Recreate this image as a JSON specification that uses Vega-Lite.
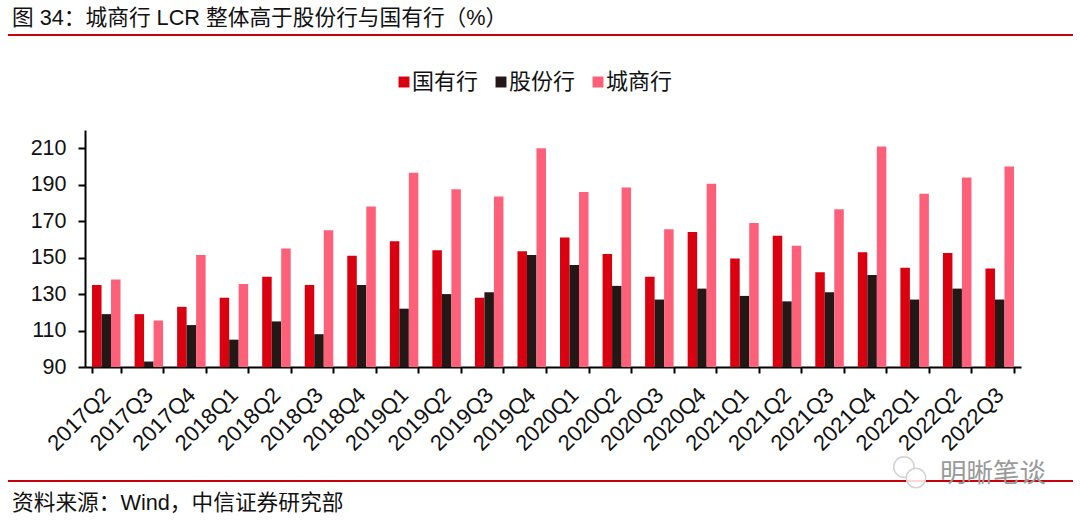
{"$schema":"https://vega.github.io/schema/vega-lite/v6.json","width":936,"height":237,"autosize":"none","padding":{"left":85,"top":130,"right":59,"bottom":155},"background":"white","config":{"view":{"stroke":null},"font":"Liberation Sans, Noto Sans CJK SC"},"datasets":{"rows":[{"q":"2017Q2","s":"国有行","v":135},{"q":"2017Q3","s":"国有行","v":119},{"q":"2017Q4","s":"国有行","v":123},{"q":"2018Q1","s":"国有行","v":128},{"q":"2018Q2","s":"国有行","v":139.5},{"q":"2018Q3","s":"国有行","v":135},{"q":"2018Q4","s":"国有行","v":151},{"q":"2019Q1","s":"国有行","v":159},{"q":"2019Q2","s":"国有行","v":154},{"q":"2019Q3","s":"国有行","v":128},{"q":"2019Q4","s":"国有行","v":153.5},{"q":"2020Q1","s":"国有行","v":161},{"q":"2020Q2","s":"国有行","v":152},{"q":"2020Q3","s":"国有行","v":139.5},{"q":"2020Q4","s":"国有行","v":164},{"q":"2021Q1","s":"国有行","v":149.5},{"q":"2021Q2","s":"国有行","v":162},{"q":"2021Q3","s":"国有行","v":142},{"q":"2021Q4","s":"国有行","v":153},{"q":"2022Q1","s":"国有行","v":144.5},{"q":"2022Q2","s":"国有行","v":152.5},{"q":"2022Q3","s":"国有行","v":144},{"q":"2017Q2","s":"股份行","v":119},{"q":"2017Q3","s":"股份行","v":93},{"q":"2017Q4","s":"股份行","v":113},{"q":"2018Q1","s":"股份行","v":105},{"q":"2018Q2","s":"股份行","v":115},{"q":"2018Q3","s":"股份行","v":108},{"q":"2018Q4","s":"股份行","v":135},{"q":"2019Q1","s":"股份行","v":122},{"q":"2019Q2","s":"股份行","v":130},{"q":"2019Q3","s":"股份行","v":131},{"q":"2019Q4","s":"股份行","v":151.5},{"q":"2020Q1","s":"股份行","v":146},{"q":"2020Q2","s":"股份行","v":134.5},{"q":"2020Q3","s":"股份行","v":127},{"q":"2020Q4","s":"股份行","v":133},{"q":"2021Q1","s":"股份行","v":129},{"q":"2021Q2","s":"股份行","v":126},{"q":"2021Q3","s":"股份行","v":131},{"q":"2021Q4","s":"股份行","v":140.5},{"q":"2022Q1","s":"股份行","v":127},{"q":"2022Q2","s":"股份行","v":133},{"q":"2022Q3","s":"股份行","v":127},{"q":"2017Q2","s":"城商行","v":138},{"q":"2017Q3","s":"城商行","v":115.5},{"q":"2017Q4","s":"城商行","v":151.5},{"q":"2018Q1","s":"城商行","v":135.5},{"q":"2018Q2","s":"城商行","v":155},{"q":"2018Q3","s":"城商行","v":165},{"q":"2018Q4","s":"城商行","v":178},{"q":"2019Q1","s":"城商行","v":196.5},{"q":"2019Q2","s":"城商行","v":187.5},{"q":"2019Q3","s":"城商行","v":183.5},{"q":"2019Q4","s":"城商行","v":210},{"q":"2020Q1","s":"城商行","v":186},{"q":"2020Q2","s":"城商行","v":188.5},{"q":"2020Q3","s":"城商行","v":165.5},{"q":"2020Q4","s":"城商行","v":190.5},{"q":"2021Q1","s":"城商行","v":169},{"q":"2021Q2","s":"城商行","v":156.5},{"q":"2021Q3","s":"城商行","v":176.5},{"q":"2021Q4","s":"城商行","v":211},{"q":"2022Q1","s":"城商行","v":185},{"q":"2022Q2","s":"城商行","v":194},{"q":"2022Q3","s":"城商行","v":200}]},"layer":[{"data":{"name":"rows"},"mark":{"type":"bar","clip":false},"encoding":{"x":{"field":"q","type":"nominal","title":null,"sort":null,"scale":{"paddingInner":0.33,"paddingOuter":0.165},"axis":{"tickBand":"extent","labelAngle":-45,"labelAlign":"right","labelBaseline":"top","labelFontSize":22,"labelColor":"#111111","labelPadding":11,"labelOffset":-7,"labelOverlap":false,"domainColor":"#000000","domainWidth":2,"tickColor":"#000000","tickWidth":2,"tickSize":6,"grid":false}},"xOffset":{"field":"s","type":"nominal","sort":["国有行","股份行","城商行"]},"y":{"field":"v","type":"quantitative","title":null,"scale":{"domain":[90,220],"nice":false,"zero":false},"axis":{"values":[90,110,130,150,170,190,210],"labelFontSize":21.5,"labelColor":"#111111","labelPadding":12,"domainColor":"#000000","domainWidth":2,"tickColor":"#000000","tickWidth":2,"tickSize":7,"grid":false}},"y2":{"datum":90},"color":{"field":"s","type":"nominal","title":null,"scale":{"domain":["国有行","股份行","城商行"],"range":["#DA0010","#231815","#FF6079"]},"legend":{"orient":"none","legendX":308,"legendY":-59,"direction":"horizontal","columns":3,"symbolType":"square","symbolSize":120,"symbolStrokeWidth":0,"labelFontSize":22,"labelColor":"#111111","labelOffset":-3,"columnPadding":11,"title":null}}}},{"data":{"values":[{"t":"图 34：城商行 LCR 整体高于股份行与国有行（%）","x":-73,"y":-112},{"t":"资料来源：Wind，中信证券研究部","x":-73,"y":373}]},"mark":{"type":"text","align":"left","baseline":"middle","fontSize":21.7,"color":"#111111"},"encoding":{"x":{"field":"x","type":"quantitative","scale":null},"y":{"field":"y","type":"quantitative","scale":null},"text":{"field":"t"}}},{"data":{"values":[{"y":-95},{"y":351}]},"mark":{"type":"rule","color":"#C8000A","strokeWidth":2},"encoding":{"x":{"value":-77},"x2":{"value":988},"y":{"field":"y","type":"quantitative","scale":null}}},{"data":{"values":[{"x":819,"y":337,"r":420},{"x":831,"y":348,"r":380}]},"mark":{"type":"point","shape":"circle","filled":true,"fill":"white","fillOpacity":0.85,"stroke":"#d2d2d2","strokeWidth":1.5},"encoding":{"x":{"field":"x","type":"quantitative","scale":null},"y":{"field":"y","type":"quantitative","scale":null},"size":{"field":"r","type":"quantitative","scale":null}}},{"data":{"values":[{"t":"明晰笔谈","x":855,"y":344}]},"mark":{"type":"text","align":"left","baseline":"middle","fontSize":26.5,"color":"#9a9a9a"},"encoding":{"x":{"field":"x","type":"quantitative","scale":null},"y":{"field":"y","type":"quantitative","scale":null},"text":{"field":"t"}}}]}
